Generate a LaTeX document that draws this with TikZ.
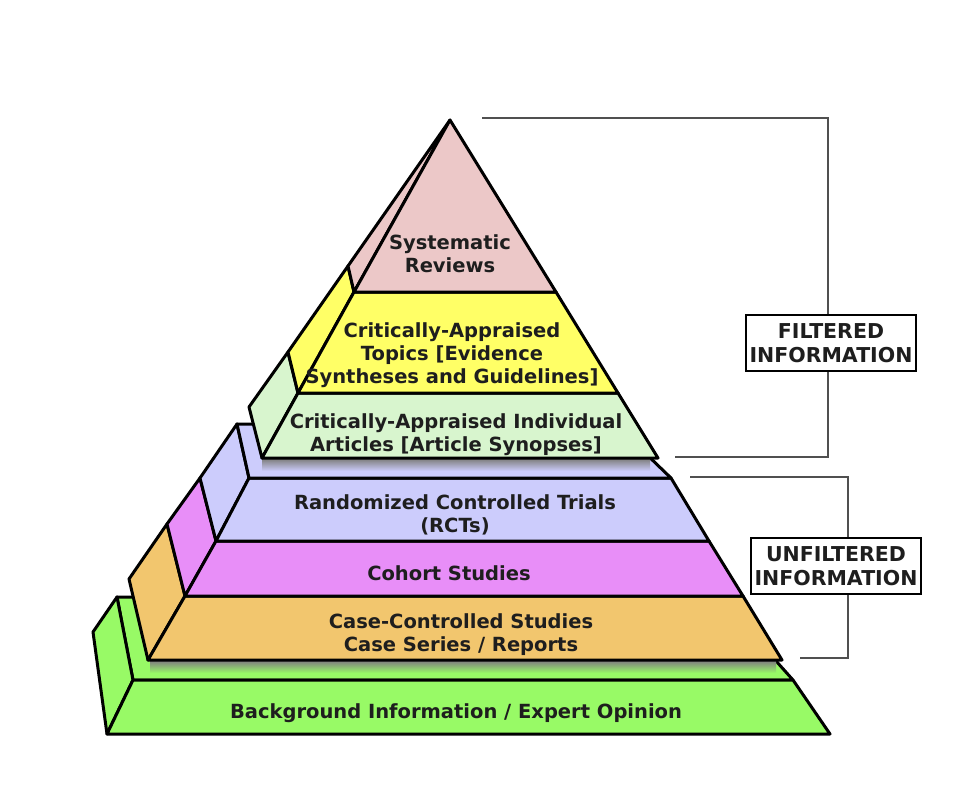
\documentclass[tikz,border=0pt]{standalone}
\usepackage{fontspec}
\setmainfont{DejaVu Sans}
\definecolor{cpink}{RGB}{236,200,200}
\definecolor{cyel}{RGB}{255,255,102}
\definecolor{cltg}{RGB}{216,245,206}
\definecolor{clav}{RGB}{204,204,252}
\definecolor{cvio}{RGB}{232,142,248}
\definecolor{cora}{RGB}{242,198,110}
\definecolor{cgrn}{RGB}{152,250,102}
\definecolor{txt}{RGB}{30,30,30}
\definecolor{brk}{RGB}{80,80,80}
\begin{document}
\begin{tikzpicture}[x=1pt,y=-1pt,
  face/.style={draw=black, line width=3pt, line join=round},
  lbl/.style={align=center, font=\fontsize{19.5}{23}\selectfont\bfseries, text=txt, inner sep=0pt},
  bracket/.style={draw=brk, line width=1.6pt},
  tagbox/.style={draw=black, line width=2.8pt, fill=white, align=center,
    font=\fontsize{20.5}{24}\selectfont\bfseries, text=txt,
    minimum width=170pt, minimum height=56pt, inner sep=0pt}]
\useasboundingbox[fill=white] (0,0) rectangle (956,788);

% ---------- lower block: green base ----------
\filldraw[face, fill=cgrn] (117,597) -- (719,597) -- (793,680) -- (133,680) -- cycle;
\shade[top color=black!50, bottom color=cgrn] (150,661) rectangle (776,673);
\filldraw[face, fill=cgrn] (117,597) -- (133,680) -- (107,734) -- (93,632) -- cycle;
\filldraw[face, fill=cgrn] (133,680) -- (793,680) -- (830,734) -- (107,734) -- cycle;

% ---------- orange ----------
\filldraw[face, fill=cora] (167,524) -- (185,596) -- (148,660) -- (129,579) -- cycle;
\filldraw[face, fill=cora] (185,596) -- (743,596) -- (782,660) -- (148,660) -- cycle;

% ---------- violet ----------
\filldraw[face, fill=cvio] (200,478) -- (216,541) -- (185,596) -- (167,524) -- cycle;
\filldraw[face, fill=cvio] (216,541) -- (709,541) -- (743,596) -- (185,596) -- cycle;

% ---------- lavender ----------
\filldraw[face, fill=clav] (237,424) -- (249,478) -- (216,541) -- (200,478) -- cycle;
\filldraw[face, fill=clav] (249,478) -- (671,478) -- (709,541) -- (216,541) -- cycle;
\filldraw[face, fill=clav] (237,424) -- (615,424) -- (671,478) -- (249,478) -- cycle;
\shade[top color=black!50, bottom color=clav] (262,459) rectangle (650,471);

% ---------- upper pyramid ----------
\filldraw[face, fill=cltg] (288,352) -- (298,393) -- (262,458) -- (249,407) -- cycle;
\filldraw[face, fill=cltg] (298,393) -- (618,393) -- (658,458) -- (262,458) -- cycle;
\filldraw[face, fill=cyel] (348,266) -- (354,292) -- (298,393) -- (288,352) -- cycle;
\filldraw[face, fill=cyel] (354,292) -- (556,292) -- (618,393) -- (298,393) -- cycle;
\filldraw[face, fill=cpink] (450,120) -- (354,292) -- (348,266) -- cycle;
\filldraw[face, fill=cpink] (450,120) -- (556,292) -- (354,292) -- cycle;

% ---------- labels ----------
\node[lbl] (sr) at (450,254) {Systematic\\Reviews};
\node[lbl] (cat) at (452,355) {Critically-Appraised\\Topics [Evidence\\Syntheses and Guidelines]};
\node[lbl] (cai) at (456,435) {Critically-Appraised Individual\\Articles [Article Synopses]};
\node[lbl] (rct) at (455,515) {Randomized Controlled Trials\\(RCTs)};
\node[lbl] (coh) at (449,573) {Cohort Studies};
\node[lbl] (ccs) at (461,635) {Case-Controlled Studies\\Case Series / Reports};
\node[lbl] (bg) at (456,713) {Background Information / Expert Opinion};

% ---------- brackets ----------
\coordinate (f1) at (482,118);
\coordinate (fc1) at (828,118);
\coordinate (fc2) at (828,457);
\coordinate (f2) at (675,457);
\draw[bracket] (f1) -- (fc1) -- (fc2) -- (f2);
\node[tagbox] (fil) at (831,343) {FILTERED\\INFORMATION};

\coordinate (u1) at (690,477);
\coordinate (uc1) at (848,477);
\coordinate (uc2) at (848,658);
\coordinate (u2) at (800,658);
\draw[bracket] (u1) -- (uc1) -- (uc2) -- (u2);
\node[tagbox] (unf) at (836,566) {UNFILTERED\\INFORMATION};
\end{tikzpicture}
\end{document}
